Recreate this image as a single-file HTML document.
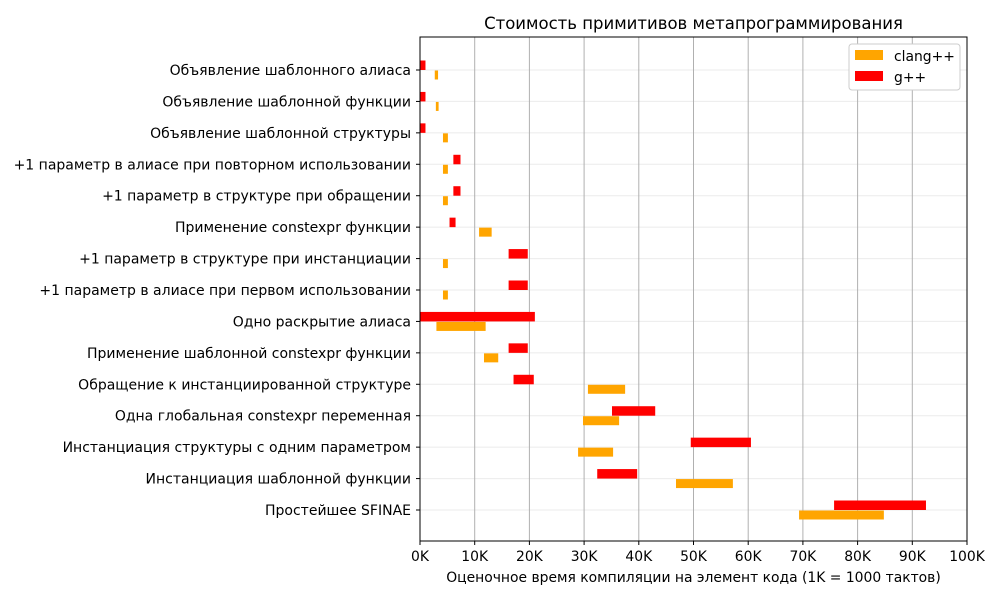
<!DOCTYPE html>
<html><head><meta charset="utf-8"><style>
body{margin:0;background:#fff;font-family:"Liberation Sans","DejaVu Sans",sans-serif;}
svg text{font-family:"DejaVu Sans","Liberation Sans",sans-serif;}
</style></head><body>
<svg id="chart" width="1000" height="600" xmlns="http://www.w3.org/2000/svg">
<rect width="1000" height="600" fill="#fff"/>
<text x="693.5" y="29" font-size="16.5" text-anchor="middle">Стоимость примитивов метапрограммирования</text>
<g id="grid"></g><g id="bars"></g><g id="axes"></g>
<text x="693.5" y="582" font-size="13.9" text-anchor="middle">Оценочное время компиляции на элемент кода (1K = 1000 тактов)</text>
<g>
<rect x="849" y="44" width="111" height="46" fill="#fff" stroke="#ccc" rx="3"/>
<rect x="855" y="50" width="28" height="10" fill="orange"/>
<text x="894" y="61" font-size="13.9">clang++</text>
<rect x="855" y="71" width="28" height="10" fill="red"/>
<text x="894" y="82" font-size="13.9">g++</text>
</g>
</svg>
<script>
const categories=["Объявление шаблонного алиаса","Объявление шаблонной функции","Объявление шаблонной структуры","+1 параметр в алиасе при повторном использовании","+1 параметр в структуре при обращении","Применение constexpr функции","+1 параметр в структуре при инстанциации","+1 параметр в алиасе при первом использовании","Одно раскрытие алиаса","Применение шаблонной constexpr функции","Обращение к инстанциированной структуре","Одна глобальная constexpr переменная","Инстанциация структуры с одним параметром","Инстанциация шаблонной функции","Простейшее SFINAE"];
const gppStart=[0,0,0,6.1,6.1,5.4,16.2,16.2,0,16.2,17.1,35.1,49.5,32.4,75.7];
const gppEnd=[1,1,1,7.4,7.4,6.5,19.7,19.7,21,19.7,20.8,43.0,60.5,39.7,92.5];
const clangStart=[2.7,2.9,4.2,4.2,4.2,10.8,4.2,4.2,3.0,11.7,30.7,29.8,28.9,46.8,69.3];
const clangEnd=[3.3,3.4,5.1,5.1,5.1,13.1,5.1,5.1,12.0,14.3,37.5,36.4,35.3,57.2,84.8];
const xTicks=[0,10,20,30,40,50,60,70,80,90,100];
const xTickLabels=["0K","10K","20K","30K","40K","50K","60K","70K","80K","90K","100K"];
const L=420,R=967,T=37,B=541;
const X=v=>L+v/100*(R-L);
const Y=i=>70+i*(510-70)/(categories.length-1);
const NS="http://www.w3.org/2000/svg";
function mk(t,a,p){const e=document.createElementNS(NS,t);for(const k in a)e.setAttribute(k,a[k]);p.appendChild(e);return e;}
const grid=document.getElementById('grid'),bars=document.getElementById('bars'),axes=document.getElementById('axes');
categories.forEach((c,i)=>{const l=mk('line',{x1:L,x2:R,y1:Y(i),y2:Y(i),stroke:'#ebebeb','stroke-width':1},grid);

});
xTicks.forEach((v,i)=>{const l=mk('line',{x1:X(v),x2:X(v),y1:T,y2:B,stroke:'#b0b0b0','stroke-width':1},grid);


const tk=mk('line',{x1:X(v),x2:X(v),y1:B,y2:B+4,stroke:'#000'},axes);


const t=mk('text',{x:X(v),y:B+20,'font-size':13.9,'text-anchor':'middle'},axes);t.textContent=xTickLabels[i];

});
categories.forEach((c,i)=>{const y=Y(i);
const r=mk('rect',{x:X(gppStart[i]),y:y-9.5,width:X(gppEnd[i])-X(gppStart[i]),height:9.5,fill:'red'},bars);


const o=mk('rect',{x:X(clangStart[i]),y:y+0.5,width:X(clangEnd[i])-X(clangStart[i]),height:9,fill:'orange'},bars);


const tk=mk('line',{x1:L-4,x2:L,y1:y,y2:y,stroke:'#000'},axes);


const t=mk('text',{x:L-9,y:y+5,'font-size':14,'text-anchor':'end'},axes);t.textContent=c;

});
const f=mk('rect',{x:L,y:T,width:R-L,height:B-T,fill:'none',stroke:'#000','stroke-width':1},axes);


</script>
</body></html>
